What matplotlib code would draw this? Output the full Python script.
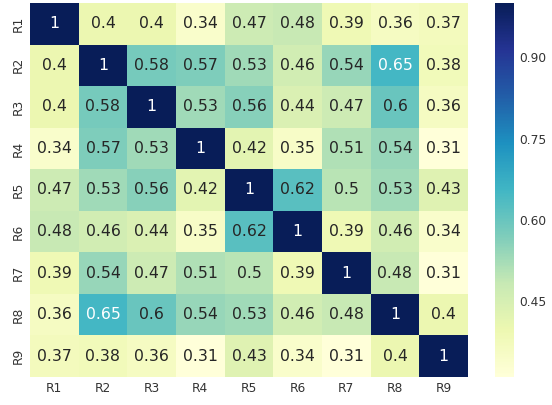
import numpy as np
import matplotlib
matplotlib.use("Agg")
import matplotlib.pyplot as plt
import seaborn as sns

labels = ["R1", "R2", "R3", "R4", "R5", "R6", "R7", "R8", "R9"]
corr = [
    [1, 0.4, 0.4, 0.34, 0.47, 0.48, 0.39, 0.36, 0.37],
    [0.4, 1, 0.58, 0.57, 0.53, 0.46, 0.54, 0.65, 0.38],
    [0.4, 0.58, 1, 0.53, 0.56, 0.44, 0.47, 0.6, 0.36],
    [0.34, 0.57, 0.53, 1, 0.42, 0.35, 0.51, 0.54, 0.31],
    [0.47, 0.53, 0.56, 0.42, 1, 0.62, 0.5, 0.53, 0.43],
    [0.48, 0.46, 0.44, 0.35, 0.62, 1, 0.39, 0.46, 0.34],
    [0.39, 0.54, 0.47, 0.51, 0.5, 0.39, 1, 0.48, 0.31],
    [0.36, 0.65, 0.6, 0.54, 0.53, 0.46, 0.48, 1, 0.4],
    [0.37, 0.38, 0.36, 0.31, 0.43, 0.34, 0.31, 0.4, 1],
]
cbar_ticks = [0.45, 0.60, 0.75, 0.90]

sns.set_style("white")
fig = plt.figure(figsize=(5.52, 4.05), dpi=100)
ax = fig.add_axes([30/552, 28/405, 438/552, 374/405])
cax = fig.add_axes([495/552, 28/405, 19/552, 374/405])
sns.heatmap(np.array(corr), ax=ax, cbar_ax=cax, cmap="YlGnBu", annot=True,
            annot_kws={"fontsize": 11.3}, xticklabels=labels, yticklabels=labels,
            cbar_kws={"ticks": cbar_ticks})
cax.set_yticklabels([f"{t:.2f}" for t in cbar_ticks])
ax.tick_params(axis="both", length=0, labelsize=8.8, colors="#333333")
cax.tick_params(length=0, labelsize=8.8, colors="#333333")
cb = ax.collections[0].colorbar
cb.outline.set_visible(False)
fig.savefig("out.png", dpi=100)
